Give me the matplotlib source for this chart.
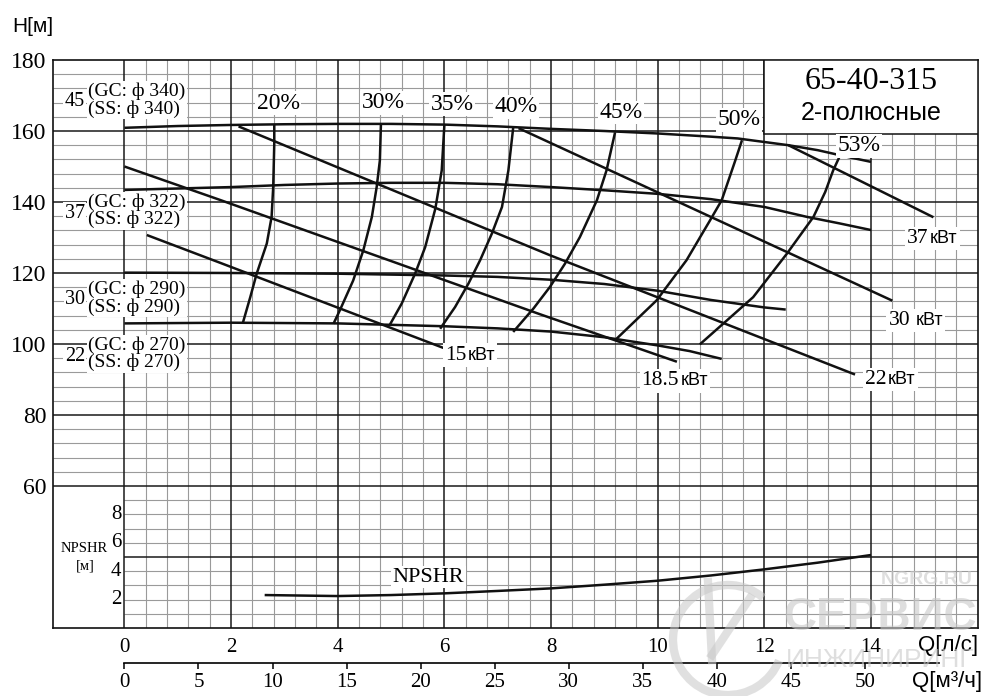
import matplotlib
matplotlib.use('Agg')
import matplotlib.pyplot as plt
from matplotlib.patches import Rectangle, Arc
from matplotlib.offsetbox import TextArea, HPacker, AnnotationBbox

SERIF = 'Liberation Serif'
SANS = 'Liberation Sans'

# axis ticks
q_ticks = [0, 2, 4, 6, 8, 10, 12, 14]
qm_ticks = [0, 5, 10, 15, 20, 25, 30, 35, 40, 45, 50]
h_ticks = [60, 80, 100, 120, 140, 160, 180]
npshr_ticks = [2, 4, 6, 8]

# H-Q curves for each impeller diameter (Q in l/s, H in m)
d340_q = [0, 1, 2, 3, 4, 5, 6, 7, 8, 9, 10, 11, 11.5, 12, 12.45, 13, 13.5, 14]
d340_h = [160.9, 161.4, 161.7, 161.9, 162.0, 162.0, 161.8, 161.3, 160.6, 160.0, 159.3, 158.4, 157.9, 156.9, 156.0, 154.6, 152.9, 151.3]
d322_q = [0, 1, 2, 3, 4, 5, 6, 7, 8, 9, 10, 11, 12, 12.8, 13.4, 14]
d322_h = [143.4, 143.8, 144.2, 144.8, 145.2, 145.4, 145.4, 145.0, 144.2, 143.3, 142.3, 140.8, 138.6, 135.8, 134.0, 132.1]
d290_q = [0, 2, 4, 6, 7, 8, 9, 10, 11, 12, 12.4]
d290_h = [120.1, 120.0, 119.8, 119.3, 118.9, 118.1, 116.9, 115.0, 112.4, 110.3, 109.7]
d270_q = [0, 2, 4, 6, 7, 8, 9, 10, 10.6, 11.2]
d270_h = [105.8, 106.0, 105.8, 105.0, 104.4, 103.5, 101.9, 99.6, 98.0, 95.8]

# power lines
p15_q = [0.42, 1.79, 5.98]
p15_h = [130.7, 122.9, 98.9]
p185_q = [0, 1.79, 7.77, 10.36]
p185_h = [150.0, 140.6, 108.5, 95.0]
p22_q = [2.14, 7.98, 13.7]
p22_h = [161.3, 125.0, 91.4]
p30_q = [7.39, 14.4]
p30_h = [160.8, 112.2]
p37_q = [12.45, 15.17]
p37_h = [156.0, 135.7]

# efficiency arcs
e20_q = [2.81, 2.81, 2.79, 2.76, 2.67, 2.48, 2.36, 2.22]
e20_h = [161.8, 156.4, 144.2, 135.8, 128.3, 119.8, 113.2, 105.9]
e30_q = [4.81, 4.79, 4.73, 4.64, 4.48, 4.29, 4.04, 3.92]
e30_h = [161.9, 151.7, 144.2, 135.8, 126.4, 117.9, 109.5, 105.7]
e35_q = [6.0, 5.95, 5.83, 5.64, 5.45, 5.2, 4.98]
e35_h = [161.8, 148.9, 138.1, 127.3, 119.8, 111.4, 105.5]
e40_q = [7.29, 7.2, 7.08, 6.89, 6.67, 6.45, 6.2, 5.92]
e40_h = [160.9, 148.9, 138.6, 131.1, 123.6, 117.0, 110.4, 104.3]
e45_q = [9.2, 9.04, 8.86, 8.54, 8.26, 7.98, 7.67, 7.29]
e45_h = [159.6, 148.9, 140.5, 130.1, 122.6, 116.1, 110.0, 103.4]
e50_q = [11.58, 11.45, 11.2, 10.98, 10.54, 9.98, 9.23]
e50_h = [157.4, 151.5, 140.5, 134.8, 123.6, 112.3, 101.5]
e53_q = [13.41, 13.29, 13.14, 12.92, 12.42, 11.79, 10.79]
e53_h = [152.8, 148.9, 142.8, 135.8, 125.4, 113.2, 99.9]

# NPSHR curve
npshr_q = [2.63, 4, 5, 6, 7, 8, 9, 10, 11, 12, 13, 14]
npshr_m = [2.32, 2.25, 2.32, 2.44, 2.61, 2.79, 3.05, 3.33, 3.7, 4.13, 4.6, 5.14]

QMIN, QMAX = -4 / 3, 16

fig = plt.figure(figsize=(10, 6.96), dpi=100)
ax = fig.add_axes([0.0533, 0.0977, 0.9244, 0.8161])
ax.set_xlim(QMIN, QMAX)
ax.set_ylim(20, 180)

# grid paper
minor_c = '#9a9a9a'
major_c = '#1a1a1a'
for i in range(1, 40):
    if i % 5:
        ax.axvline(i * 0.4, color=minor_c, lw=0.8, zorder=1)
for h in range(24, 180, 4):
    if h % 20:
        ax.hlines(h, QMIN if h > 60 else 0, QMAX, color=minor_c, lw=0.8, zorder=1)
for q in q_ticks:
    ax.axvline(q, color=major_c, lw=1.1, zorder=1.5)
for h in range(40, 180, 20):
    ax.hlines(h, QMIN if h >= 60 else 0, QMAX, color=major_c, lw=1.1, zorder=1.5)
for s in ax.spines.values():
    s.set_linewidth(1.2)
    s.set_color('#111')

ax.set_yticks(h_ticks)
ax.set_yticklabels([str(v) for v in h_ticks], family=SERIF, fontsize=17)
ax.set_xticks(q_ticks)
ax.set_xticklabels([str(v) for v in q_ticks], family=SERIF, fontsize=15)
ax.tick_params(axis='y', length=0, pad=5)
ax.tick_params(axis='x', length=0, pad=7)

# title box
ax.add_patch(Rectangle((12, 159.2), 4, 20.8, fc='white', ec='#111', lw=1.1, zorder=3))
ax.text(14, 173.9, '65-40-315', ha='center', va='center', family=SERIF, fontsize=23, zorder=4)
ax.text(14, 165.0, '2-полюсные', ha='center', va='center', family=SANS, fontsize=18, zorder=4)

line_kw = dict(color='#111', lw=1.8, zorder=4, solid_capstyle='butt', solid_joinstyle='round')
for qs, hs in [(d340_q, d340_h), (d322_q, d322_h), (d290_q, d290_h), (d270_q, d270_h),
               (p15_q, p15_h), (p185_q, p185_h), (p22_q, p22_h), (p30_q, p30_h), (p37_q, p37_h),
               (e20_q, e20_h), (e30_q, e30_h), (e35_q, e35_h), (e40_q, e40_h),
               (e45_q, e45_h), (e50_q, e50_h), (e53_q, e53_h)]:
    ax.plot(qs, hs, **line_kw)

white = dict(fc='white', ec='none', pad=1)

# efficiency labels
for txt, q, h in [('20%', 2.88, 167.8), ('30%', 4.85, 167.9), ('35%', 6.15, 167.6),
                  ('40%', 7.35, 166.8), ('45%', 9.31, 165.2), ('50%', 11.53, 163.1),
                  ('53%', 13.78, 155.8)]:
    ax.text(q, h, txt, ha='center', va='center', family=SERIF, fontsize=17, bbox=white, zorder=5)

# impeller labels
for num, d, hmid, hnum in [('45', '340', 168.7, 168.3), ('37', '322', 137.5, 136.9),
                           ('30', '290', 112.9, 112.4), ('22', '270', 97.25, 96.6)]:
    ax.text(-0.74, hnum, num, ha='right', va='center', family=SERIF, fontsize=14.5, bbox=white, zorder=5)
    ax.text(-0.675, hmid, '(GC: ф %s)\n(SS: ф %s)' % (d, d), ha='left', va='center',
            family=SERIF, fontsize=14, linespacing=1.0, bbox=white, zorder=5)


def kw_label(num, q, h, sep=1):
    parts = [TextArea(num, textprops=dict(family=SERIF, fontsize=15.5)),
             TextArea('кВт', textprops=dict(family=SANS, fontsize=13))]
    box = HPacker(children=parts, align='baseline', pad=0, sep=sep)
    ab = AnnotationBbox(box, (q, h), frameon=True, pad=0.15,
                        bboxprops=dict(fc='white', ec='none'), zorder=5)
    ax.add_artist(ab)


kw_label('15', 6.48, 96.9)
kw_label('18.5', 10.32, 89.6)
kw_label('22', 14.36, 89.9)
kw_label('30', 14.84, 106.6, sep=4)
kw_label('37', 15.15, 129.8)

# NPSHR on its own scale (0..40 m over the whole plot height)
axn = ax.twinx()
axn.set_ylim(0, 40)
axn.set_yticks([])
for s in axn.spines.values():
    s.set_visible(False)
axn.plot(npshr_q, npshr_m, **line_kw)
for v in npshr_ticks:
    axn.text(-0.06, v, str(v), ha='right', va='center', family=SERIF, fontsize=15, zorder=5)
axn.text(5.7, 3.59, 'NPSHR', ha='center', va='center', family=SERIF, fontsize=16, bbox=white, zorder=5)
axn.text(-0.76, 5.63, 'NPSHR', ha='center', va='center', family=SERIF, fontsize=10.5)
axn.text(-0.74, 4.37, '[м]', ha='center', va='center', family=SERIF, fontsize=10.5)

# second flow axis in m3/h
axm = fig.add_axes([0.0533, 0.0474, 0.9244, 0.0001])
axm.set_xlim(QMIN * 3.6, QMAX * 3.6)
axm.set_yticks([])
axm.patch.set_visible(False)
for side in ['top', 'left', 'right']:
    axm.spines[side].set_visible(False)
axm.spines['bottom'].set_bounds(0, 55)
axm.spines['bottom'].set_linewidth(1.2)
axm.set_xticks(qm_ticks)
axm.set_xticklabels([str(v) for v in qm_ticks], family=SERIF, fontsize=15)
axm.tick_params(axis='x', direction='out', length=4, width=1.1, pad=3)

fig.text(0.012, 1 - 27 / 696, 'H[м]', ha='left', va='center', family=SANS, fontsize=15)
fig.text(0.978, 1 - 645 / 696, 'Q[л/с]', ha='right', va='center', family=SANS, fontsize=16)
fig.text(0.982, 1 - 682 / 696, 'Q[м³/ч]', ha='right', va='center', family=SANS, fontsize=16)

# watermark
wm_c = '#c8c8c8'
wm = dict(color=wm_c, alpha=0.6, ha='center', va='center', family=SANS, zorder=10)
fig.text(0.927, 1 - 580 / 696, 'NGRG.RU', fontsize=14, weight='bold', **wm)
fig.text(0.88, 1 - 618 / 696, 'СЕРВИС', fontsize=33, weight='bold', **wm)
fig.text(0.88, 1 - 660 / 696, 'ИНЖИНИРИНГ', fontsize=19, **wm)
fig.add_artist(Arc((0.728, 1 - 640 / 696), 0.11, 0.11 * 1000 / 696, theta1=60, theta2=330,
                   transform=fig.transFigure, color=wm_c, alpha=0.55, lw=6, zorder=10))
fig.add_artist(plt.Line2D([0.708, 0.712], [1 - 582 / 696, 1 - 660 / 696],
                          transform=fig.transFigure, color=wm_c, alpha=0.55, lw=6, zorder=10))
fig.add_artist(plt.Line2D([0.712, 0.75], [1 - 655 / 696, 1 - 598 / 696],
                          transform=fig.transFigure, color=wm_c, alpha=0.55, lw=6, zorder=10))

fig.savefig('out.png', dpi=100)
